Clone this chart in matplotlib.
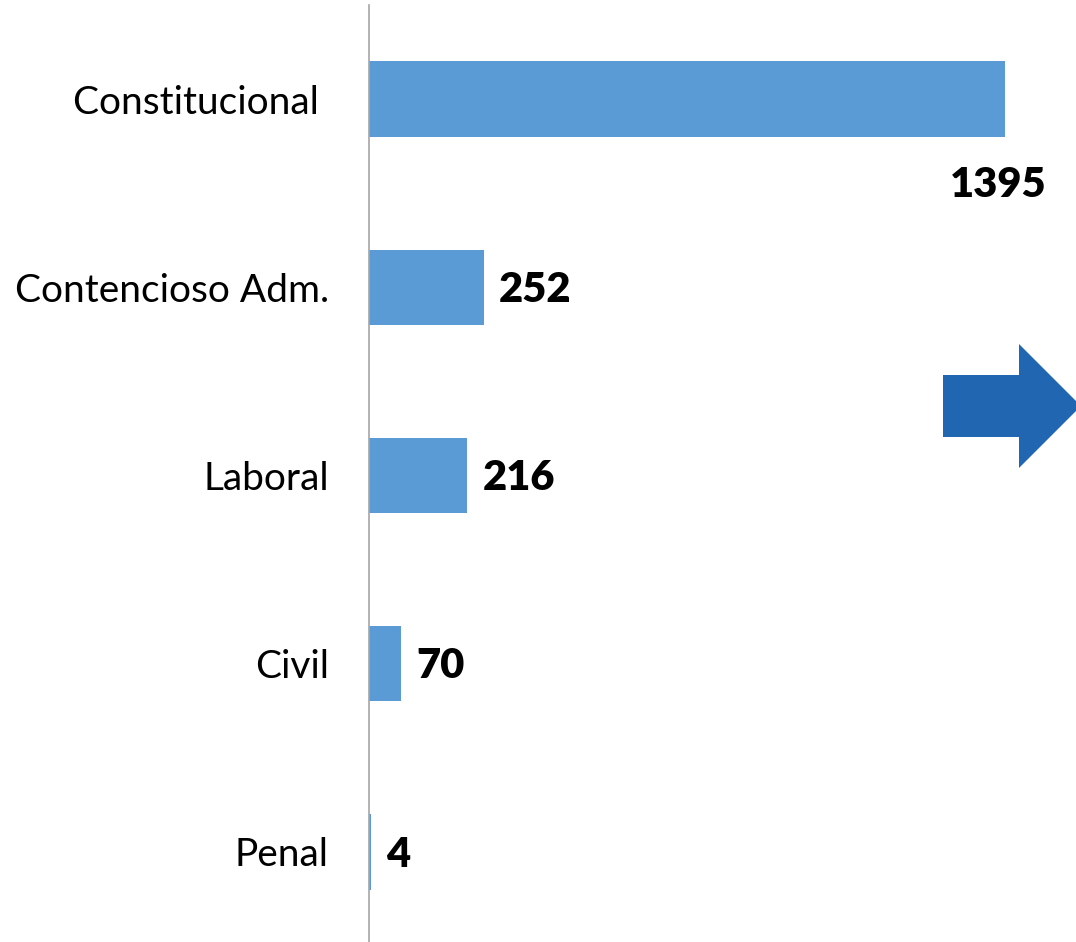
import matplotlib
matplotlib.use('Agg')
import matplotlib.pyplot as plt
from matplotlib.patches import Polygon

W, H = 1076, 942
BAR = '#5B9BD5'
ARROW = '#2066B0'
AXIS = '#A6A6A6'

categories = ['Constitucional ', 'Contencioso Adm.', 'Laboral', 'Civil', 'Penal']
values = [1395, 252, 216, 70, 4]

plt.rcParams['font.family'] = ['Lato', 'DejaVu Sans']

fig = plt.figure(figsize=(W / 100, H / 100), dpi=100)
# axes runs slightly past the bottom edge so bar spacing matches
ax = fig.add_axes([369 / W, -4 / H, 1 - 369 / W, 941 / H])

ypos = list(range(len(categories)))
ax.barh(ypos, values, height=0.4, color=BAR, zorder=2)
ax.set_ylim(len(categories) - 0.5, -0.5)
ax.set_xlim(0, 1551)
ax.set_yticks(ypos)
ax.set_yticklabels(categories, fontsize=28)
ax.tick_params(axis='y', length=0, pad=29)
ax.set_xticks([])
for s in ['top', 'right', 'bottom']:
    ax.spines[s].set_visible(False)
ax.spines['left'].set_color(AXIS)
ax.spines['left'].set_linewidth(1.2)

# value labels
for i, v in enumerate(values):
    if i == 0:
        ax.annotate(str(v), (v, i), xytext=(30, -62), textcoords='offset points',
                    ha='right', va='center', fontsize=30, fontweight='heavy')
    else:
        ax.annotate(str(v), (v, i), xytext=(11, -2), textcoords='offset points',
                    ha='left', va='center', fontsize=30, fontweight='heavy')

# block arrow on the right
pts = [(943, 375), (1019, 375), (1019, 344), (1081, 406), (1019, 468), (1019, 437), (943, 437)]
arrow = Polygon([(x / W, 1 - y / H) for x, y in pts], closed=True,
                transform=fig.transFigure, facecolor=ARROW, edgecolor='none')
fig.patches.append(arrow)

fig.savefig('out.png', dpi=100)
